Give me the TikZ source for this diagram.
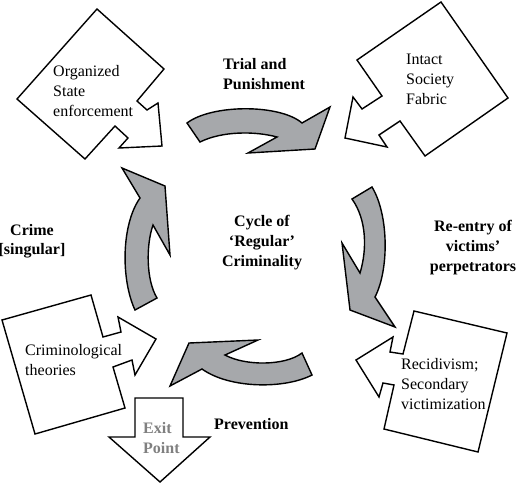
\documentclass[tikz,border=0pt]{standalone}
\usepackage{fontspec}
\setmainfont{Liberation Serif}
\definecolor{arrowgray}{RGB}{166,168,171}
\definecolor{exitgray}{RGB}{128,128,128}
\begin{document}
\begin{tikzpicture}[x=1pt,y=-1pt,
  box/.style={draw=black, line width=1.4pt, fill=white, line join=miter},
  cyclearrow/.style={draw=black, line width=1.4pt, fill=arrowgray, line join=miter},
  lbl/.style={font=\fontsize{16}{20}\selectfont, inner sep=0pt},
  blbl/.style={inner sep=0pt, font=\fontsize{16}{20}\selectfont\bfseries}]
\useasboundingbox (0,0) rectangle (519,485);
% boxes with arrows
\draw[box] (97,9) -- (164,69) -- (137,101) -- (147,110) -- (158,103) -- (162,146) -- (119,148) -- (128,138) -- (115,126) -- (85,159) -- (17,99) -- cycle;
\draw[box] (441,2) -- (508,98) -- (425,156) -- (400,121) -- (379,135) -- (387,147) -- (345,138) -- (353,97) -- (362,109) -- (382,96) -- (357,60) -- cycle;
\draw[box] (2,320) -- (91,295) -- (103,337) -- (121,332) -- (118,317) -- (156,339) -- (135,375) -- (132,360) -- (113,367) -- (125,408) -- (35,434) -- cycle;
\draw[box] (414,311) -- (507,333) -- (478,452) -- (384,429) -- (394,385) -- (383,383) -- (379,397) -- (356,360) -- (393,337) -- (390,352) -- (403,354) -- cycle;
\draw[box] (135,398) -- (183,398) -- (183,437) -- (210,437) -- (160,482) -- (109,437) -- (135,437) -- cycle;
% cycle arrows
\draw[cyclearrow] (187,123) .. controls (212,104) and (280,104) .. (302,123) -- (330,107) -- (315,149) -- (248,153) -- (277,137) .. controls (255,131) and (222,131) .. (200,142) -- cycle;
\draw[cyclearrow] (372,187) .. controls (389,215) and (389,270) .. (375,297) -- (395,327) -- (350,310) -- (342,243) -- (360,273) .. controls (367,250) and (367,220) .. (352,199) -- cycle;
\draw[cyclearrow] (312,375) .. controls (285,389) and (230,389) .. (202,369) -- (170,386) -- (189,343) -- (258,340) -- (225,355) .. controls (245,366) and (285,366) .. (302,353) -- cycle;
\draw[cyclearrow] (122,168) -- (165,186) -- (170,255) -- (153,225) .. controls (146,245) and (146,280) .. (157,298) -- (135,310) .. controls (121,280) and (121,225) .. (140,198) -- cycle;
% labels (base anchor = baseline of last line)
\node[lbl, anchor=base west, align=left] (org) at (53,116) {Organized\\State\\enforcement};
\node[lbl, anchor=base west, align=left] (intact) at (406,104) {Intact\\Society\\Fabric};
\node[lbl, anchor=base west, align=left] (crim) at (25,375) {Criminological\\theories};
\node[lbl, anchor=base west, align=left] (recid) at (401,409) {Recidivism;\\Secondary\\victimization};
\node[blbl, anchor=base west, align=left] (trial) at (223,89) {Trial and\\Punishment};
\node[blbl, anchor=base, align=center, font=\fontsize{16}{19}\selectfont\bfseries] (crime) at (32,254) {Crime\\{[singular]}};
\node[blbl, anchor=base, align=center] (cycle) at (262,266) {Cycle of\\‘Regular’\\Criminality};
\node[blbl, anchor=base, align=center] (reentry) at (473,271) {Re-entry of\\victims’\\perpetrators};
\node[blbl, anchor=base west] (prev) at (214,429) {Prevention};
\node[blbl, anchor=base west, align=left, text=exitgray] (exit) at (143,453) {Exit\\Point};
\end{tikzpicture}
\end{document}
